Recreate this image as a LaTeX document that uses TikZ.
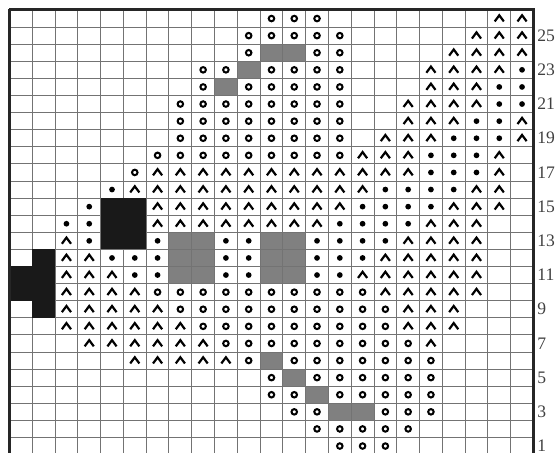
\documentclass[tikz,border=0pt]{standalone}
\usepackage{fontspec}
\setmainfont{Liberation Serif}

\begin{document}
\begin{tikzpicture}[x=0.4556cm,y=0.342cm,
  ring/.style={draw,circle,line width=1.15pt,inner sep=0pt,minimum size=0.11cm},
  dot/.style={fill,circle,inner sep=0pt,minimum size=0.115cm},
  caret/.pic={\draw[line width=1.25pt,line join=miter] (-0.2,-0.17)--(0,0.19)--(0.2,-0.17);},
  gridline/.style={black!55,line width=0.55pt},
  rowlabel/.style={anchor=west,inner sep=0pt,text=black!75,font=\fontsize{10}{11}\selectfont}]
\useasboundingbox (-0.417,0.094) rectangle (23.99,26.585);
\clip (-0.417,0.094) rectangle (23.99,26.585);
\foreach \r/\cs in {24/{12,13},23/{11},22/{10},13/{8,9,12,13},12/{8,9,12,13},11/{8,9,12,13},6/{12},5/{13},4/{14},3/{15,16}}
  \foreach \c in \cs \fill[black!50] (\c-1,\r-1) rectangle (\c,\r);
\foreach \c in {1,...,22} \draw[gridline] (\c,0) -- (\c,26);
\foreach \r in {1,...,25} \draw[gridline] (0,\r) -- (23,\r);
\foreach \r/\cs in {15/{5,6},14/{5,6},13/{5,6},12/{2},11/{1,2},10/{1,2},9/{2}}
  \foreach \c in \cs \fill[black!90] (\c-1,\r-1) rectangle (\c,\r);
\foreach \r/\cs in {26/{12,13,14},25/{11,...,15},24/{11,14,15},23/{9,10,12,13,14,15},22/{9,11,12,13,14,15},
  21/{8,...,15},20/{8,...,15},19/{8,...,15},18/{7,...,15},17/{6},10/{7,...,16},9/{8,...,17},8/{9,...,17},
  7/{10,...,18},6/{11,13,14,15,16,17,18,19},5/{12,14,15,16,17,18,19},4/{12,13,15,16,17,18,19},
  3/{13,14,17,18,19},2/{14,...,18},1/{15,16,17}}
  \foreach \c in \cs \node[ring] (o\c-\r) at (\c-0.5,\r-0.5) {};
\foreach \r/\cs in {23/{23},22/{22,23},21/{22,23},20/{21,22},19/{20,21,22},18/{19,20,21},17/{19,20,21},
  16/{5,17,18,19,20},15/{4,16,17,18,19},14/{3,4,15,16,17,18},13/{4,7,10,11,14,15,16,17},
  12/{5,6,7,10,11,14,15,16},11/{6,7,10,11,14,15}}
  \foreach \c in \cs \node[dot] (d\c-\r) at (\c-0.5,\r-0.5) {};
\foreach \r/\cs in {26/{22,23},25/{21,22,23},24/{20,21,22,23},23/{19,20,21,22},22/{19,20,21},21/{18,19,20,21},
  20/{18,19,20,23},19/{17,18,19,23},18/{16,17,18,22},17/{7,...,18,22},16/{6,...,16,21,22},
  15/{7,...,15,20,21,22},14/{7,...,14,19,20,21},13/{3,18,19,20,21},12/{3,4,17,18,19,20,21},
  11/{3,4,5,16,17,18,19,20,21},10/{3,4,5,6,17,18,19,20,21},9/{3,...,7,18,19,20},8/{3,...,8,18,19,20},
  7/{4,...,9,19},6/{6,...,10}}
  \foreach \c in \cs \pic (k\c-\r) at (\c-0.5,\r-0.5) {caret};
\foreach \r in {1,3,...,25}
  \node[rowlabel] (n\r) at (23.16,\r-0.5) {\r};
\draw[black!85,line width=1.7pt] (0,26) -- (23,26) -- (23,0);
\draw[black!85,line width=2.2pt] (0,0) -- (0,26.03);
\end{tikzpicture}
\end{document}
